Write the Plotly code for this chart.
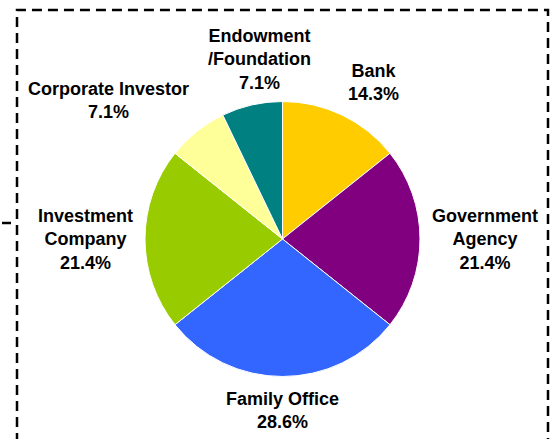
import math
import plotly.graph_objects as go

# data
investor_types = ["Bank", "Government Agency", "Family Office", "Investment Company",
                  "Corporate Investor", "Endowment /Foundation"]
label_lines = [["Bank"], ["Government", "Agency"], ["Family Office"], ["Investment", "Company"],
               ["Corporate Investor"], ["Endowment", "/Foundation"]]
counts = [2, 3, 4, 3, 1, 1]
colors = ["#FFCC00", "#800080", "#3366FF", "#99CC00", "#FFFF99", "#008080"]

W, H = 554, 439
cx, cy, R = 282.5, 239, 137.5   # pie centre / radius in pixels
gap = 10

fig = go.Figure()
fig.add_trace(go.Pie(
    labels=investor_types,
    values=counts,
    marker=dict(colors=colors, line=dict(color="white", width=1)),
    sort=False,
    direction="clockwise",
    rotation=0,
    textinfo="none",
    hoverinfo="label+percent",
    domain=dict(x=[(cx - R) / W, (cx + R) / W], y=[1 - (cy + R) / H, 1 - (cy - R) / H]),
))

# outside labels, placed Excel-style beside the mid angle of each slice
total = sum(counts)
cum = 0
for lines, v in zip(label_lines, counts):
    mid = (cum + v / 2) / total * 2 * math.pi
    cum += v
    s, c = math.sin(mid), math.cos(mid)
    px = cx + (R + gap) * s
    py = cy - (R + gap) * c
    xa = "left" if s > 0.3 else ("right" if s < -0.3 else "center")
    ya = "bottom" if c > 0.5 else ("top" if c < -0.5 else "middle")
    if xa == "center" and ya == "bottom":
        px += 10
    pct = f"{100 * v / total:.1f}%"
    fig.add_annotation(
        x=px / W, y=1 - py / H, xref="paper", yref="paper",
        xanchor=xa, yanchor=ya, showarrow=False, align="center",
        text="<br>".join(["<b>" + t + "</b>" for t in lines + [pct]]),
        font=dict(family="Liberation Sans, Arial", size=18, color="black"),
    )

# dashed frame
fig.add_shape(type="rect", xref="paper", yref="paper",
              x0=17 / W, x1=548 / W, y0=-0.05, y1=1 - 10 / H,
              line=dict(color="black", width=2.5, dash="10px,6px"))
fig.add_shape(type="line", xref="paper", yref="paper",
              x0=2 / W, x1=11 / W, y0=1 - 223 / H, y1=1 - 223 / H,
              line=dict(color="black", width=2.5))

fig.update_layout(
    width=W, height=H,
    margin=dict(l=0, r=0, t=0, b=0),
    showlegend=False,
    paper_bgcolor="white",
    plot_bgcolor="white",
)

fig.write_html("out.html", config={"displayModeBar": False},
               post_script="document.body.style.margin='0';")
